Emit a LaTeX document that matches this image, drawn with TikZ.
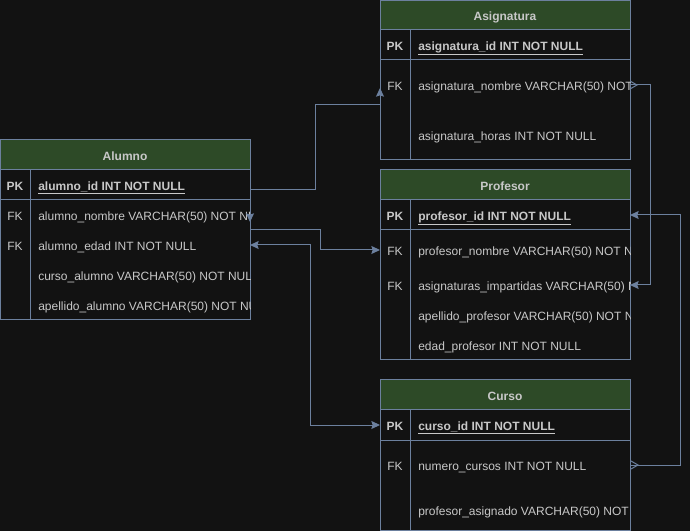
\documentclass[tikz,border=0pt]{standalone}
\usepackage{fontspec}
\setmainfont{Liberation Sans}
\usetikzlibrary{arrows.meta}
\definecolor{bg}{RGB}{18,18,18}
\definecolor{edgeblue}{RGB}{108,128,158}
\definecolor{headgreen}{RGB}{45,74,39}
\definecolor{txt}{RGB}{200,200,200}
\begin{document}
\begin{tikzpicture}[x=0.75pt,y=-0.75pt,>={Stealth[length=6.5pt,width=6pt,inset=1pt]},
      entity/.style={draw=edgeblue,line width=0.75pt,minimum width=187.5pt,anchor=north west,inner sep=0pt,outer sep=0pt},
      head/.style={entity,fill=headgreen,minimum height=22.5pt,text=txt,text height=8pt,text depth=0pt,font=\fontsize{9}{11}\selectfont\bfseries},
      key/.style={text=txt,inner sep=0pt,text height=8pt,text depth=0pt,font=\fontsize{9}{11}\selectfont},
      pk/.style={key,font=\fontsize{9}{11}\selectfont\bfseries},
      field/.style={anchor=west,text=txt,inner sep=0pt,text height=8pt,text depth=0pt,font=\fontsize{9}{11}\selectfont},
      idfield/.style={field,font=\fontsize{9}{11}\selectfont\bfseries},
      grid/.style={draw=edgeblue,line width=0.75pt},
      link/.style={draw=edgeblue,line width=0.75pt}]
      \useasboundingbox (0,0) rectangle (690,531);
      \fill[bg] (0,0) rectangle (690,531);

      % Alumno
      \node[entity,minimum height=135pt] (alumno) at (0,140) {};
      \node[head] (alumno-head) at (0,140) {Alumno};
      \draw[grid] (0,170) -- (250,170) (0,200) -- (250,200) (30,170) -- (30,320);
      \node[pk] (alumno-pk) at (15,185) {PK};
      \node[key] (alumno-fk1) at (15,215) {FK};
      \node[key] (alumno-fk2) at (15,245) {FK};
      \begin{scope}
        \clip (30,170) rectangle (250,320);
        \node[idfield] (alumno-id) at (38,185) {\underline{alumno\_id INT NOT NULL}};
        \node[field] (alumno-nombre) at (38,215) {alumno\_nombre VARCHAR(50) NOT NULL};
        \node[field] (alumno-edad) at (38,245) {alumno\_edad INT NOT NULL};
        \node[field] (alumno-curso) at (38,275) {curso\_alumno VARCHAR(50) NOT NULL};
        \node[field] (alumno-apellido) at (38,305) {apellido\_alumno VARCHAR(50) NOT NULL};
      \end{scope}

      % Asignatura
      \node[entity,minimum height=119.625pt] (asignatura) at (380,0.5) {};
      \node[head,minimum height=22.125pt] (asignatura-head) at (380,0.5) {Asignatura};
      \draw[grid] (380,30) -- (630,30) (380,60) -- (630,60) (410,30) -- (410,160);
      \node[pk] (asig-pk) at (395,45) {PK};
      \node[key] (asig-fk) at (395,85) {FK};
      \begin{scope}
        \clip (410,30) rectangle (630,160);
        \node[idfield] (asig-id) at (418,45) {\underline{asignatura\_id INT NOT NULL}};
        \node[field] (asig-nombre) at (418,85) {asignatura\_nombre VARCHAR(50) NOT NULL};
        \node[field] (asig-horas) at (418,135) {asignatura\_horas INT NOT NULL};
      \end{scope}

      % Profesor
      \node[entity,minimum height=142.5pt] (profesor) at (380,170) {};
      \node[head] (profesor-head) at (380,170) {Profesor};
      \draw[grid] (380,200) -- (630,200) (380,230) -- (630,230) (410,200) -- (410,360);
      \node[pk] (prof-pk) at (395,215) {PK};
      \node[key] (prof-fk1) at (395,250) {FK};
      \node[key] (prof-fk2) at (395,285) {FK};
      \begin{scope}
        \clip (410,200) rectangle (630,360);
        \node[idfield] (prof-id) at (418,215) {\underline{profesor\_id INT NOT NULL}};
        \node[field] (prof-nombre) at (418,250) {profesor\_nombre VARCHAR(50) NOT NULL};
        \node[field] (prof-asig) at (418,285) {asignaturas\_impartidas VARCHAR(50) NOT NULL};
        \node[field] (prof-apellido) at (418,315) {apellido\_profesor VARCHAR(50) NOT NULL};
        \node[field] (prof-edad) at (418,345) {edad\_profesor INT NOT NULL};
      \end{scope}

      % Curso
      \node[entity,minimum height=112.5pt] (curso) at (380,380) {};
      \node[head] (curso-head) at (380,380) {Curso};
      \draw[grid] (380,410) -- (630,410) (380,440) -- (630,440) (410,410) -- (410,530);
      \node[pk] (curso-pk) at (395,425) {PK};
      \node[key] (curso-fk) at (395,465) {FK};
      \begin{scope}
        \clip (410,410) rectangle (630,530);
        \node[idfield] (curso-id) at (418,425) {\underline{curso\_id INT NOT NULL}};
        \node[field] (curso-num) at (418,465) {numero\_cursos INT NOT NULL};
        \node[field] (curso-prof) at (418,510) {profesor\_asignado VARCHAR(50) NOT NULL};
      \end{scope}

      % relations
      \draw[link,->] ([yshift=-3.75pt]alumno-id -| alumno.east) -| (315,105) -| ([yshift=-2.25pt]asig-nombre -| asignatura.west);
      \draw[link,->] ([yshift=6pt]alumno-nombre -| alumno.east) -- ([yshift=-5.25pt]alumno-nombre -| alumno.east);
      \draw[link,->] ([yshift=-11.25pt]alumno-nombre -| alumno.east) -- ++(70,0) |- (prof-nombre -| profesor.west);
      \draw[link,<->] (alumno-edad -| alumno.east) -- ++(60,0) |- (curso-id -| curso.west);
      \draw[link,->] (asig-nombre -| asignatura.east) -- ++(20,0) |- (prof-asig -| profesor.east);
      \draw[link] (asig-nombre -| asignatura.east) +(0,-4) -- +(7,0) -- +(0,4);
      \draw[link,<-] (prof-id -| profesor.east) -- ++(50,0) |- (curso-num -| curso.east);
      \draw[link] (curso-num -| curso.east) +(1,-4) -- +(8,0) -- +(1,4);
\end{tikzpicture}
\end{document}
